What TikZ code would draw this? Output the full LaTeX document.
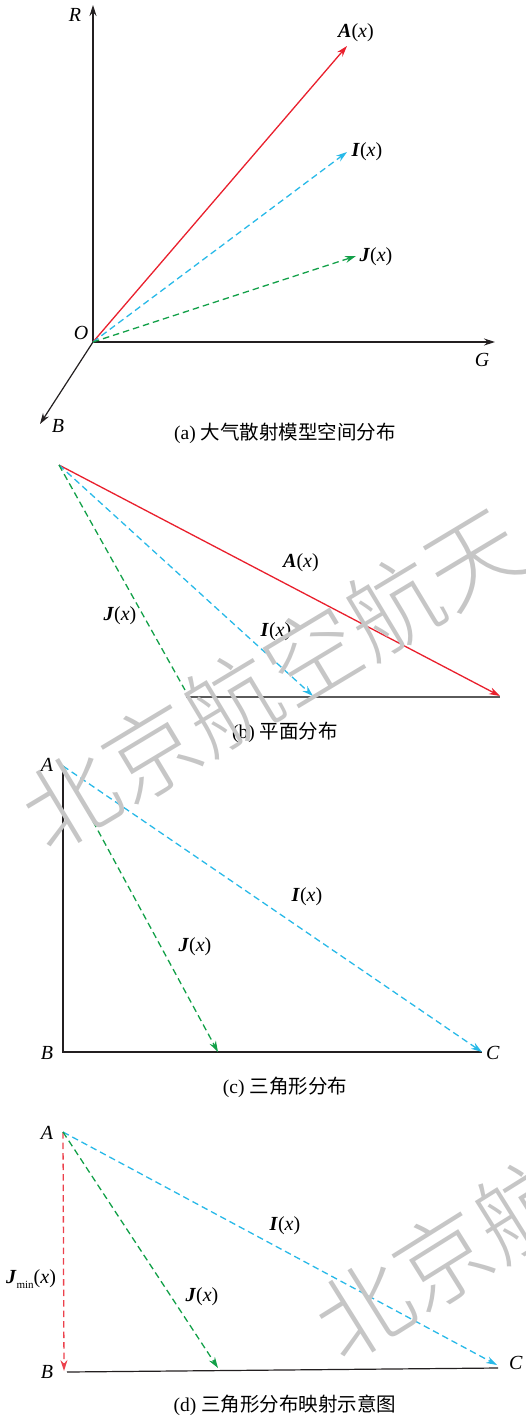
\documentclass[tikz,border=0pt]{standalone}
\usepackage{fontspec}
\setmainfont{Liberation Serif}
\newfontfamily\cjk{Noto Sans CJK SC}
\IfFontExistsTF{Noto Sans CJK SC Light}{\newfontfamily\wmfont{Noto Sans CJK SC Light}}{\newfontfamily\wmfont{Noto Sans CJK SC}}
\usetikzlibrary{arrows.meta}
\definecolor{vred}{RGB}{233,32,45}
\definecolor{vcyan}{RGB}{40,185,232}
\definecolor{vgreen}{RGB}{18,160,72}
\definecolor{axiscol}{RGB}{35,31,32}
\definecolor{basegray}{RGB}{90,90,90}
\definecolor{wm}{RGB}{198,198,198}
\newcommand{\vlab}[1]{\textbf{\textit{#1}}(\textit{x})}
\begin{document}
\begin{tikzpicture}[x=1pt,y=-1pt,
  vtip/.style={-{Stealth[length=11pt,width=7pt]}},
  axisline/.style={draw=axiscol,line width=1.2pt},
  dsh/.style={line width=1.3pt,dash pattern=on 6.5pt off 4pt},
  redvec/.style={draw=vred,line width=1.3pt,vtip},
  cyanvec/.style={draw=vcyan,dsh,vtip},
  greenvec/.style={draw=vgreen,dsh,vtip},
  vlabel/.style={font=\fontsize{20}{22}\selectfont,inner sep=0pt},
  capt/.style={font=\fontsize{19.5}{22}\selectfont,inner sep=0pt},
  wmark/.style={font=\wmfont\fontsize{94}{94}\selectfont,text=wm,inner sep=0pt,anchor=west}
]
\useasboundingbox (0,0) rectangle (525,1421);
\clip (0,0) rectangle (525,1421);

% ---------- (a) ----------
\coordinate (O) at (93,342);
\coordinate (Rt) at (93,5);
\coordinate (Gt) at (495,342);
\coordinate (Bt) at (40,424);
\coordinate (Ae) at (347,46);
\coordinate (Ie) at (347,152);
\coordinate (Je) at (356,256);
\draw[axisline,vtip] (O) -- (Rt);
\draw[axisline,vtip] (O) -- (Gt);
\draw[axisline,vtip] (O) -- (Bt);
\draw[redvec] (O) -- (Ae);
\draw[cyanvec] (O) -- (Ie);
\draw[greenvec] (O) -- (Je);
\node[vlabel] (Rl) at (75,15) {\textit{R}};
\node[vlabel] (Gl) at (482,360) {\textit{G}};
\node[vlabel] (Bl) at (58,426) {\textit{B}};
\node[vlabel] (Ol) at (81,333) {\textit{O}};
\node[vlabel] (Al) at (356,33) {\vlab{A}};
\node[vlabel] (Il) at (367,152) {\vlab{I}};
\node[vlabel] (Jl) at (376,257) {\vlab{J}};
\node[capt] (capa) at (285,433) {(a) {\cjk 大气散射模型空间分布}};

% ---------- (b) ----------
\coordinate (P) at (59,465);
\coordinate (bl) at (186,697);
\coordinate (br) at (500,697);
\coordinate (bA) at (500,696);
\coordinate (bI) at (313,696);
\coordinate (bJ) at (185,690);
\draw[draw=basegray,line width=1.6pt] (bl) -- (br);
\draw[redvec] (P) -- (bA);
\draw[cyanvec] (P) -- (bI);
\draw[draw=vgreen,dsh] (P) -- (bJ);
\node[vlabel] (bAl) at (301,563) {\vlab{A}};
\node[vlabel] (bIl) at (276,632) {\vlab{I}};
\node[vlabel] (bJl) at (120,616) {\vlab{J}};
\node[capt] (capb) at (285,732) {(b) {\cjk 平面分布}};

% ---------- (c) ----------
\coordinate (cA) at (63,766);
\coordinate (cB) at (63,1052);
\coordinate (cC) at (482,1052);
\coordinate (cJ) at (218,1052);
\draw[axisline] (cA) -- (cB) -- (cC);
\draw[cyanvec] (cA) -- (cC);
\draw[greenvec] (cA) -- (cJ);
\node[vlabel] (cAl) at (47,765) {\textit{A}};
\node[vlabel] (cBl) at (47,1053) {\textit{B}};
\node[vlabel] (cCl) at (493,1053) {\textit{C}};
\node[vlabel] (cIl) at (307,897) {\vlab{I}};
\node[vlabel] (cJl) at (195,947) {\vlab{J}};
\node[capt] (capc) at (285,1087) {(c) {\cjk 三角形分布}};

% ---------- (d) ----------
\coordinate (dA) at (63,1132);
\coordinate (dB) at (64,1371);
\coordinate (dl) at (67,1372);
\coordinate (dr) at (498,1368);
\coordinate (dC) at (497,1365);
\coordinate (dJ) at (218,1368);
\draw[axisline] (dl) -- (dr);
\draw[draw=vred!85,dsh,vtip] (dA) -- (dB);
\draw[cyanvec] (dA) -- (dC);
\draw[greenvec] (dA) -- (dJ);
\node[vlabel] (dAl) at (47,1133) {\textit{A}};
\node[vlabel] (dBl) at (47,1372) {\textit{B}};
\node[vlabel] (dCl) at (516,1363) {\textit{C}};
\node[vlabel] (dIl) at (285,1226) {\vlab{I}};
\node[vlabel] (dJl) at (202,1297) {\vlab{J}};
\node[vlabel] (dJm) at (31,1279) {\textbf{\textit{J}}\raisebox{-5pt}{\fontsize{11}{11}\selectfont min}(\textit{x})};
\node[capt] (capd) at (285,1405) {(d) {\cjk 三角形分布映射示意图}};

% ---------- watermark ----------
\node[wmark,rotate=31] (wm1) at (30,824) {北京航空航天};
\node[wmark,rotate=32] (wm2) at (323,1334) {北京航};
\end{tikzpicture}
\end{document}
